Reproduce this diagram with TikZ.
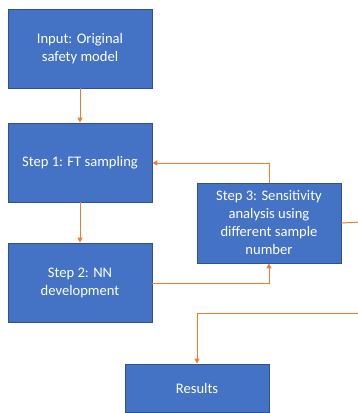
\documentclass[tikz,border=0pt]{standalone}
\usepackage{fontspec}
\setmainfont{Carlito}
\usetikzlibrary{arrows.meta}
\definecolor{boxfill}{HTML}{4472C4}
\definecolor{boxline}{HTML}{2F528F}
\definecolor{arr}{HTML}{ED7D31}
\begin{document}
\begin{tikzpicture}[x=1pt,y=1pt,
  blk/.style={draw=boxline,line width=0.8pt,fill=boxfill,text=white,align=center,
    inner sep=0pt,font=\fontsize{14.6}{18}\selectfont},
  conn/.style={draw=arr,line width=1pt,-{Triangle[length=5pt,width=5pt]}},
  plain/.style={draw=arr,line width=1pt}]
\useasboundingbox (0,0) rectangle (358,-413);
\node[blk,minimum width=144pt,minimum height=79pt] (in) at (80,-48.5) {Input: Original\\safety model};
\node[blk,minimum width=144pt,minimum height=79pt] (s1) at (80,-162.5) {Step 1: FT sampling};
\node[blk,minimum width=144pt,minimum height=79pt] (s2) at (80,-282.5) {Step 2: NN\\development};
\node[blk,minimum width=144pt,minimum height=80pt] (s3) at (269,-223) {Step 3: Sensitivity\\analysis using\\different sample\\number};
\node[blk,minimum width=144pt,minimum height=48pt] (res) at (197,-388) {Results};
\coordinate (outA) at (362,-222);
\coordinate (outB) at (362,-313);
\draw[conn] (in.south) -- (s1.north);
\draw[conn] (s1.south) -- (s2.north);
\draw[conn] (s2.east |- 0,-283) -- (269,-283) -- (s3.south);
\draw[conn] (s3.north) -- (269,-163) -- (s1.east |- 0,-163);
\draw[plain] (s3.east) -- (outA);
\draw[conn] (outB) -- (197,-313) -- (res.north);
\end{tikzpicture}
\end{document}
